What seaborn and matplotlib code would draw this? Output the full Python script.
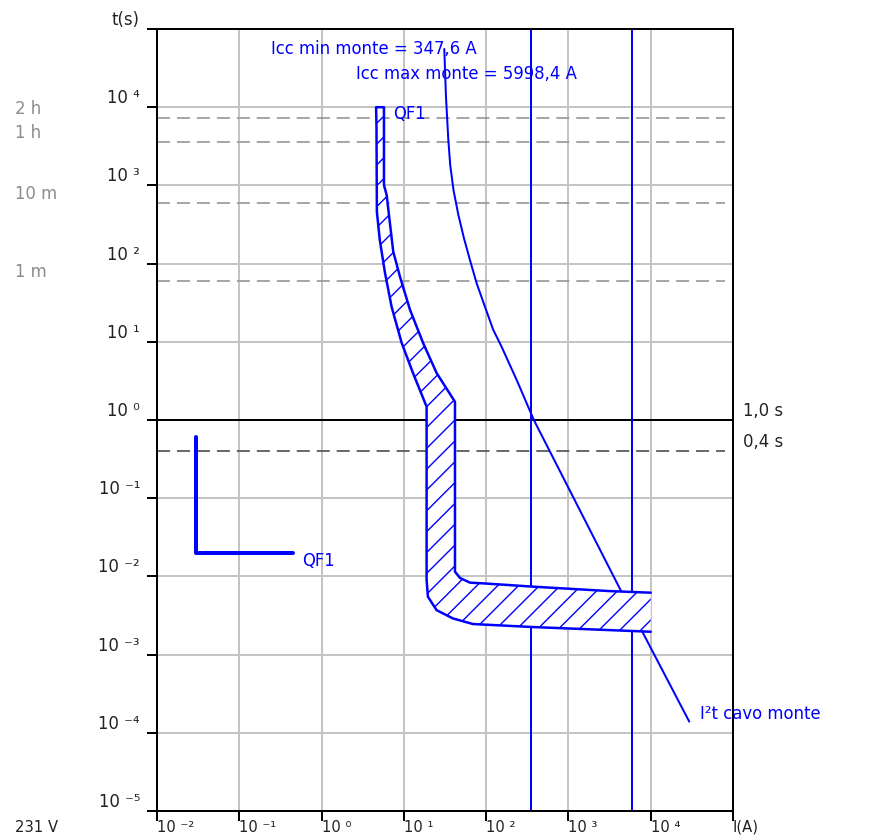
import matplotlib
matplotlib.use("Agg")
import matplotlib.pyplot as plt
import seaborn as sns
from matplotlib.ticker import NullLocator

# ---------------- data ----------------
x_ticks = [1e-2, 1e-1, 1e0, 1e1, 1e2, 1e3, 1e4, 1e5]
x_tick_labels = ["10 ⁻²", "10 ⁻¹", "10 ⁰", "10 ¹", "10 ²", "10 ³", "10 ⁴", "I(A)"]
y_ticks = [1e-5, 1e-4, 1e-3, 1e-2, 1e-1, 1e0, 1e1, 1e2, 1e3, 1e4, 1e5]
y_tick_labels = ["10 ⁻⁵", "10 ⁻⁴", "10 ⁻³", "10 ⁻²", "10 ⁻¹", "10 ⁰",
                 "10 ¹", "10 ²", "10 ³", "10 ⁴", "t(s)"]

time_marks_t = [7200, 3600, 600, 60]
time_marks_labels = ["2 h", "1 h", "10 m", "1 m"]

ref_times = [1.0, 0.4]
ref_labels = ["1,0 s", "0,4 s"]

icc_values = [347.6, 5998.4]
icc_labels = ["Icc min monte = 347,6 A", "Icc max monte = 5998,4 A"]

cable_label = "I²t cavo monte"
cable_I = [31.0, 32.5, 34.7, 36.6, 40.1, 46.0, 53.7, 63.6, 76.7, 96.7, 122, 154, 235, 380,
           4345, 29400]
cable_t = [55500, 13600, 3810, 1824, 873, 418, 212, 111, 55.9, 28.1, 14.2, 8.66, 3.25, 1.0,
           0.00655, 1.39e-4]

qf1_label = "QF1"
qf1_left_I = [4.6, 4.65, 4.7, 5.1, 5.9, 7.1, 9.4, 12.9, 18.9, 18.9, 19.6, 25.0, 39.5, 69, 371, 10000]
qf1_left_t = [1e4, 5400, 460, 200, 76, 28, 9.7, 4.0, 1.48, 0.009, 0.0055, 0.0037, 0.0029,
              0.00246, 0.00225, 0.00196]
qf1_right_I = [5.73, 5.73, 6.18, 7.43, 8.97, 11.9, 17.2, 25.0, 41.8, 41.8, 48.1, 63.5, 100,
               373, 3060, 10000]
qf1_right_t = [1e4, 1010, 753, 142, 68, 25.5, 9.57, 3.99, 1.71, 0.0115, 0.00955, 0.00832,
               0.0081, 0.00739, 0.0065, 0.00619]

symbol_I = [0.03, 0.03, 0.45]
symbol_t = [0.61, 0.02, 0.02]

voltage_label = "231 V"

# ---------------- style ----------------
DPI = 125
PX = 72.0 / DPI  # points per pixel
BLUE = "#0000ff"
FS = 9.5
FS_BOTTOM = 8.5

sns.set_theme(style="white")
plt.rcParams["font.family"] = ["DejaVu Sans"]
plt.rcParams["hatch.linewidth"] = 0.8
plt.rcParams["axes.edgecolor"] = "black"

fig = plt.figure(figsize=(877 / DPI, 837 / DPI), dpi=DPI)
fig.patch.set_facecolor("white")
ax = fig.add_axes([157 / 877, 26 / 837, 576 / 877, 782 / 837])
ax.set_xscale("log")
ax.set_yscale("log")
ax.set_xlim(1e-2, 1e5)
ax.set_ylim(1e-5, 1e5)

for s in ax.spines.values():
    s.set_color("black")
    s.set_linewidth(2 * PX)
    s.set_zorder(10)

ax.set_xticks(x_ticks)
ax.set_yticks(y_ticks)
ax.xaxis.set_minor_locator(NullLocator())
ax.yaxis.set_minor_locator(NullLocator())
ax.set_xticklabels(x_tick_labels, ha="left")
ax.set_yticklabels(y_tick_labels, va="bottom")
ax.tick_params(axis="both", direction="out", length=10 * PX, width=2 * PX,
               color="black", labelcolor="#222222", bottom=True, left=True)
ax.tick_params(axis="x", pad=-1 * PX, labelsize=FS_BOTTOM)
ax.tick_params(axis="y", pad=7 * PX, labelsize=FS)

ax.grid(True, which="major", color="#c4c4c4", linewidth=2 * PX)
ax.set_axisbelow(True)

# time reference dashed lines (hours / minutes)
ax.hlines(time_marks_t, 1e-2, 8e4, colors="#9a9a9a", linewidth=1.0,
          linestyles=(0, (7.5, 4)), zorder=1)
for t, lab in zip(time_marks_t, time_marks_labels):
    ax.annotate(lab, xy=(0, t), xycoords=("axes fraction", "data"),
                xytext=(-(157 - 15) * PX, 0), textcoords="offset points",
                ha="left", va="bottom", fontsize=FS, color="#8c8c8c")

# 1 s and 0.4 s reference lines
ax.axhline(ref_times[0], color="black", linewidth=2 * PX, zorder=2)
ax.hlines([ref_times[1]], 1e-2, 8e4, colors="#555555", linewidth=1.0,
          linestyles=(0, (7.5, 4)), zorder=2)
for t, lab in zip(ref_times, ref_labels):
    ax.annotate(lab, xy=(1, t), xycoords=("axes fraction", "data"),
                xytext=(10 * PX, 0), textcoords="offset points",
                ha="left", va="bottom", fontsize=FS, color="#222222")

# Icc vertical lines
for v in icc_values:
    ax.axvline(v, color=BLUE, linewidth=2 * PX, zorder=2.5)
icc_text_pos = [(-157, 0.9744), (-166, 0.9425)]
for v, lab, (dx, yf) in zip(icc_values, icc_labels, icc_text_pos):
    ax.annotate(lab, xy=(v, yf), xycoords=("data", "axes fraction"),
                xytext=(dx * PX, 0), textcoords="offset points",
                ha="center", va="center", fontsize=FS, color=BLUE)

# cable I2t curve
sns.lineplot(x=cable_I, y=cable_t, sort=False, estimator=None, ax=ax,
             color=BLUE, linewidth=2 * PX, zorder=3)
ax.annotate(cable_label, xy=(cable_I[-1], cable_t[-1]),
            xytext=(11 * PX, 7.7 * PX), textcoords="offset points",
            ha="left", va="center", fontsize=FS, color=BLUE)

# QF1 band: white fill with hatch
poly_I = qf1_left_I + qf1_right_I[::-1]
poly_t = qf1_left_t + qf1_right_t[::-1]
ax.fill(poly_I, poly_t, facecolor="white", edgecolor=BLUE, hatch="//",
        linewidth=0, zorder=4)
outline_I = qf1_right_I[::-1] + qf1_left_I
outline_t = qf1_right_t[::-1] + qf1_left_t
sns.lineplot(x=outline_I, y=outline_t, sort=False, estimator=None, ax=ax,
             color=BLUE, linewidth=2.5 * PX, zorder=5)
ax.annotate(qf1_label, xy=(qf1_right_I[0], qf1_right_t[0]),
            xytext=(9 * PX, -7 * PX), textcoords="offset points",
            ha="left", va="center", fontsize=FS, color=BLUE)

# QF1 symbol
sns.lineplot(x=symbol_I, y=symbol_t, sort=False, estimator=None, ax=ax,
             color=BLUE, linewidth=4 * PX, zorder=5)
ax.annotate(qf1_label, xy=(symbol_I[-1], symbol_t[-1]),
            xytext=(9 * PX, -8 * PX), textcoords="offset points",
            ha="left", va="center", fontsize=FS, color=BLUE)

ax.set_xlabel("")
ax.set_ylabel("")

fig.text(15 / 877, (837 - 820) / 837, voltage_label, ha="left", va="top",
         fontsize=FS_BOTTOM, color="#222222")

fig.savefig("out.png", dpi=DPI, facecolor="white")
